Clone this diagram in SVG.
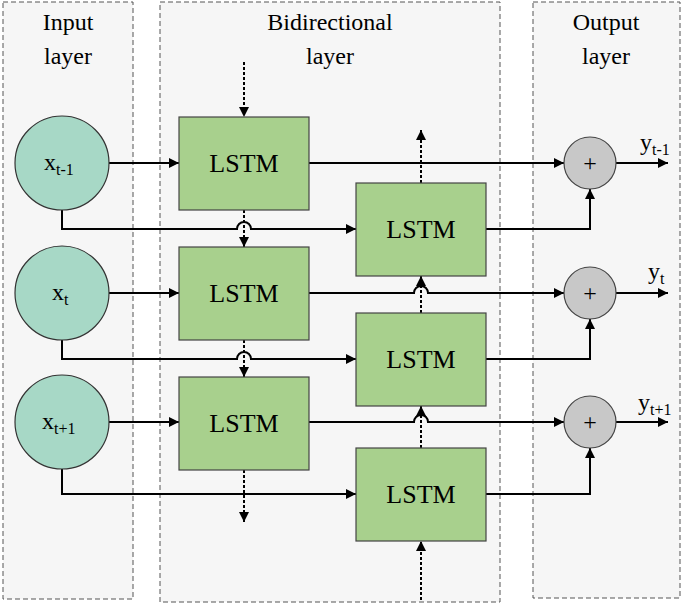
<svg xmlns="http://www.w3.org/2000/svg" width="685" height="607" viewBox="0 0 685 607">
<defs>
<marker id="a" viewBox="0 0 10 10" refX="10" refY="5" markerWidth="10" markerHeight="10" markerUnits="userSpaceOnUse" orient="auto"><path d="M0,0L10,5L0,10z" fill="#000"/></marker>
<style>
.panel{fill:#f6f6f6;stroke:#555;stroke-width:1;stroke-dasharray:5,3}
.x{fill:#a7d8c6;stroke:#333;stroke-width:1.2}
.l{fill:#a8d08d;stroke:#444;stroke-width:1.2}
.p{fill:#c8c8c8;stroke:#444;stroke-width:1.2}
.t{font-family:"Liberation Serif",serif;fill:#000}
.c{fill:none;stroke:#000;stroke-width:2}
.d{fill:none;stroke:#000;stroke-width:2;stroke-dasharray:3,2}
</style>
</defs>
<rect width="685" height="607" fill="#fff"/>
<g id="panels">
<rect class="panel" x="3" y="2" width="130" height="597"/>
<rect class="panel" x="160" y="2" width="340" height="600"/>
<rect class="panel" x="533" y="2" width="147" height="596"/>
<text class="t" font-size="24" text-anchor="middle" x="68" y="30">Input</text>
<text class="t" font-size="24" text-anchor="middle" x="68" y="64">layer</text>
<text class="t" font-size="24" text-anchor="middle" x="330" y="30">Bidirectional</text>
<text class="t" font-size="24" text-anchor="middle" x="330" y="64">layer</text>
<text class="t" font-size="24" text-anchor="middle" x="606" y="30">Output</text>
<text class="t" font-size="24" text-anchor="middle" x="606" y="64">layer</text>
</g>
<g id="connectors">
<path class="c" d="M109,163H179" marker-end="url(#a)"/>
<path class="c" d="M109,293H179" marker-end="url(#a)"/>
<path class="c" d="M109,422H179" marker-end="url(#a)"/>
<path class="c" d="M62,210V229H237A7,7 0 0 1 251,229H356" marker-end="url(#a)"/>
<path class="c" d="M62,340V359H237A7,7 0 0 1 251,359H356" marker-end="url(#a)"/>
<path class="c" d="M62,469V494H356" marker-end="url(#a)"/>
<path class="c" d="M309,163H564" marker-end="url(#a)"/>
<path class="c" d="M309,293H414A7,7 0 0 1 428,293H564" marker-end="url(#a)"/>
<path class="c" d="M309,422H414A7,7 0 0 1 428,422H564" marker-end="url(#a)"/>
<path class="c" d="M486,229H590V189" marker-end="url(#a)"/>
<path class="c" d="M486,359H590V319" marker-end="url(#a)"/>
<path class="c" d="M486,494H590V448" marker-end="url(#a)"/>
<path class="c" d="M616,163H668" marker-end="url(#a)"/>
<path class="c" d="M616,293H668" marker-end="url(#a)"/>
<path class="c" d="M616,422H668" marker-end="url(#a)"/>
<path class="d" d="M244,62V117" marker-end="url(#a)"/>
<path class="d" d="M244,210V247" marker-end="url(#a)"/>
<path class="d" d="M244,340V377" marker-end="url(#a)"/>
<path class="d" d="M244,470V522" marker-end="url(#a)"/>
<path class="d" d="M421,183V130" marker-end="url(#a)"/>
<path class="d" d="M421,313V276" marker-end="url(#a)"/>
<path class="d" d="M421,448V406" marker-end="url(#a)"/>
<path class="d" d="M421,600V541" marker-end="url(#a)"/>
</g>
<g id="x1"><circle class="x" cx="62" cy="163" r="47"/><text class="t" font-size="24" x="44" y="170">x<tspan font-size="16" dy="5">t-1</tspan></text></g>
<g id="x2"><circle class="x" cx="62" cy="293" r="47"/><text class="t" font-size="24" x="52" y="300">x<tspan font-size="16" dy="5">t</tspan></text></g>
<g id="x3"><circle class="x" cx="62" cy="422" r="47"/><text class="t" font-size="24" x="42" y="429">x<tspan font-size="16" dy="5">t+1</tspan></text></g>
<g id="f1"><rect class="l" x="179" y="117" width="130" height="93"/><text class="t" font-size="26" text-anchor="middle" x="244" y="172">LSTM</text></g>
<g id="f2"><rect class="l" x="179" y="247" width="130" height="93"/><text class="t" font-size="26" text-anchor="middle" x="244" y="302">LSTM</text></g>
<g id="f3"><rect class="l" x="179" y="377" width="130" height="93"/><text class="t" font-size="26" text-anchor="middle" x="244" y="432">LSTM</text></g>
<g id="b1"><rect class="l" x="356" y="183" width="130" height="93"/><text class="t" font-size="26" text-anchor="middle" x="421" y="238">LSTM</text></g>
<g id="b2"><rect class="l" x="356" y="313" width="130" height="93"/><text class="t" font-size="26" text-anchor="middle" x="421" y="368">LSTM</text></g>
<g id="b3"><rect class="l" x="356" y="448" width="130" height="93"/><text class="t" font-size="26" text-anchor="middle" x="421" y="503">LSTM</text></g>
<g id="p1"><circle class="p" cx="590" cy="163" r="26"/><text class="t" font-size="24" text-anchor="middle" x="590" y="171">+</text></g>
<g id="p2"><circle class="p" cx="590" cy="293" r="26"/><text class="t" font-size="24" text-anchor="middle" x="590" y="301">+</text></g>
<g id="p3"><circle class="p" cx="590" cy="422" r="26"/><text class="t" font-size="24" text-anchor="middle" x="590" y="430">+</text></g>
<g id="labels">
<text class="t" font-size="24" x="640" y="150">y<tspan font-size="16" dy="5">t-1</tspan></text>
<text class="t" font-size="24" x="648" y="279">y<tspan font-size="16" dy="5">t</tspan></text>
<text class="t" font-size="24" x="638" y="410">y<tspan font-size="16" dy="5">t+1</tspan></text>
</g>
</svg>
